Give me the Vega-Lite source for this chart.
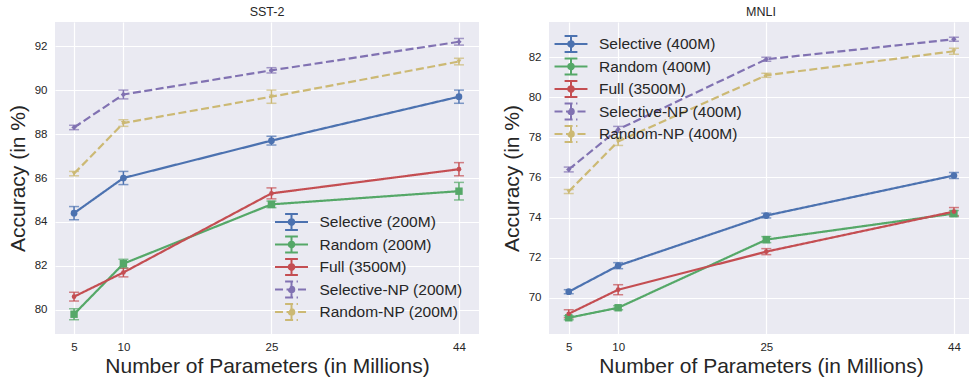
{
  "$schema": "https://vega.github.io/schema/vega-lite/v6.json",
  "padding": {"left": 7, "top": 5, "right": 0, "bottom": 0},
  "datasets": {
    "sst": [
      {"series": "Selective (200M)", "params": 5, "acc": 84.4, "err": 0.3},
      {"series": "Selective (200M)", "params": 10, "acc": 86.0, "err": 0.3},
      {"series": "Selective (200M)", "params": 25, "acc": 87.7, "err": 0.2},
      {"series": "Selective (200M)", "params": 44, "acc": 89.7, "err": 0.3},
      {"series": "Random (200M)", "params": 5, "acc": 79.8, "err": 0.25},
      {"series": "Random (200M)", "params": 10, "acc": 82.1, "err": 0.2},
      {"series": "Random (200M)", "params": 25, "acc": 84.8, "err": 0.15},
      {"series": "Random (200M)", "params": 44, "acc": 85.4, "err": 0.4},
      {"series": "Full (3500M)", "params": 5, "acc": 80.6, "err": 0.2},
      {"series": "Full (3500M)", "params": 10, "acc": 81.7, "err": 0.2},
      {"series": "Full (3500M)", "params": 25, "acc": 85.3, "err": 0.25},
      {"series": "Full (3500M)", "params": 44, "acc": 86.4, "err": 0.3},
      {"series": "Selective-NP (200M)", "params": 5, "acc": 88.3, "err": 0.1},
      {"series": "Selective-NP (200M)", "params": 10, "acc": 89.8, "err": 0.2},
      {"series": "Selective-NP (200M)", "params": 25, "acc": 90.9, "err": 0.12},
      {"series": "Selective-NP (200M)", "params": 44, "acc": 92.2, "err": 0.15},
      {"series": "Random-NP (200M)", "params": 5, "acc": 86.2, "err": 0.1},
      {"series": "Random-NP (200M)", "params": 10, "acc": 88.5, "err": 0.15},
      {"series": "Random-NP (200M)", "params": 25, "acc": 89.7, "err": 0.3},
      {"series": "Random-NP (200M)", "params": 44, "acc": 91.3, "err": 0.15}
    ],
    "mnli": [
      {"series": "Selective (400M)", "params": 5, "acc": 70.3, "err": 0.1},
      {"series": "Selective (400M)", "params": 10, "acc": 71.6, "err": 0.15},
      {"series": "Selective (400M)", "params": 25, "acc": 74.1, "err": 0.12},
      {"series": "Selective (400M)", "params": 44, "acc": 76.1, "err": 0.15},
      {"series": "Random (400M)", "params": 5, "acc": 69.0, "err": 0.1},
      {"series": "Random (400M)", "params": 10, "acc": 69.5, "err": 0.1},
      {"series": "Random (400M)", "params": 25, "acc": 72.9, "err": 0.15},
      {"series": "Random (400M)", "params": 44, "acc": 74.2, "err": 0.15},
      {"series": "Full (3500M)", "params": 5, "acc": 69.2, "err": 0.2},
      {"series": "Full (3500M)", "params": 10, "acc": 70.4, "err": 0.25},
      {"series": "Full (3500M)", "params": 25, "acc": 72.3, "err": 0.15},
      {"series": "Full (3500M)", "params": 44, "acc": 74.3, "err": 0.2},
      {"series": "Selective-NP (400M)", "params": 5, "acc": 76.4, "err": 0.12},
      {"series": "Selective-NP (400M)", "params": 10, "acc": 78.4, "err": 0.15},
      {"series": "Selective-NP (400M)", "params": 25, "acc": 81.9, "err": 0.1},
      {"series": "Selective-NP (400M)", "params": 44, "acc": 82.9, "err": 0.1},
      {"series": "Random-NP (400M)", "params": 5, "acc": 75.3, "err": 0.1},
      {"series": "Random-NP (400M)", "params": 10, "acc": 77.8, "err": 0.2},
      {"series": "Random-NP (400M)", "params": 25, "acc": 81.1, "err": 0.1},
      {"series": "Random-NP (400M)", "params": 44, "acc": 82.3, "err": 0.15}
    ]
  },
  "spacing": 22,
  "resolve": {"scale": {"color": "independent", "strokeDash": "independent", "y": "independent"}},
  "hconcat": [
    {
      "width": 424,
      "height": 312,
      "title": "SST-2",
      "data": {"name": "sst"},
      "encoding": {
        "x": {"field": "params", "type": "quantitative", "scale": {"domain": [3.07, 46.03], "nice": false, "zero": false}, "axis": {"values": [5, 10, 25, 44], "title": "Number of Parameters (in Millions)"}},
        "y": {"field": "acc", "type": "quantitative", "scale": {"domain": [78.9, 93.1], "nice": false, "zero": false}, "axis": {"values": [80, 82, 84, 86, 88, 90, 92], "title": "Accuracy (in %)"}},
        "color": {"field": "series", "type": "nominal", "title": null,
          "scale": {"domain": ["Selective (200M)", "Random (200M)", "Full (3500M)", "Selective-NP (200M)", "Random-NP (200M)"], "range": ["#4C72B0", "#55A868", "#C44E52", "#8172B2", "#CCB974"]},
          "legend": {"orient": "none", "legendX": 227.5, "legendY": 191, "symbolType": "M-2.06,0H2.06M0,-1V1M-0.8,-1H0.8M-0.8,1H0.8M0.35,0A0.35,0.35,0,1,1,-0.35,0A0.35,0.35,0,1,1,0.35,0", "symbolSize": 256, "symbolStrokeWidth": 2, "symbolOpacity": 1}}
      },
      "layer": [
        {"mark": {"type": "errorbar", "ticks": {"size": 10}, "thickness": 1.5}, "encoding": {"yError": {"field": "err"}}},
        {"mark": {"type": "line", "strokeWidth": 2.2}, "encoding": {
          "strokeDash": {"field": "series", "type": "nominal", "title": null, "scale": {"domain": ["Selective (200M)", "Random (200M)", "Full (3500M)", "Selective-NP (200M)", "Random-NP (200M)"], "range": [[1, 0], [1, 0], [1, 0], [8, 3.5], [8, 3.5]]}}}},
        {"transform": [{"filter": "datum.series == 'Selective (200M)'"}], "mark": {"type": "point", "filled": true, "opacity": 1, "shape": "circle", "size": 45}},
        {"transform": [{"filter": "datum.series == 'Random (200M)'"}], "mark": {"type": "point", "filled": true, "opacity": 1, "shape": "square", "size": 55}},
        {"transform": [{"filter": "datum.series == 'Full (3500M)'"}], "mark": {"type": "point", "filled": true, "opacity": 1, "shape": "circle", "size": 22}},
        {"transform": [{"filter": "datum.series == 'Selective-NP (200M)'"}], "mark": {"type": "point", "filled": true, "opacity": 1, "shape": "diamond", "size": 28}},
        {"transform": [{"filter": "datum.series == 'Random-NP (200M)'"}], "mark": {"type": "point", "filled": true, "opacity": 1, "shape": "triangle-down", "size": 24}}
      ]
    },
    {
      "width": 424,
      "height": 312,
      "title": "MNLI",
      "data": {"name": "mnli"},
      "encoding": {
        "x": {"field": "params", "type": "quantitative", "scale": {"domain": [3.0, 45.93], "nice": false, "zero": false}, "axis": {"values": [5, 10, 25, 44], "title": "Number of Parameters (in Millions)"}},
        "y": {"field": "acc", "type": "quantitative", "scale": {"domain": [68.19, 83.76], "nice": false, "zero": false}, "axis": {"values": [70, 72, 74, 76, 78, 80, 82], "title": "Accuracy (in %)"}},
        "color": {"field": "series", "type": "nominal", "title": null,
          "scale": {"domain": ["Selective (400M)", "Random (400M)", "Full (3500M)", "Selective-NP (400M)", "Random-NP (400M)"], "range": ["#4C72B0", "#55A868", "#C44E52", "#8172B2", "#CCB974"]},
          "legend": {"orient": "top-left", "offset": 13, "symbolType": "M-2.06,0H2.06M0,-1V1M-0.8,-1H0.8M-0.8,1H0.8M0.35,0A0.35,0.35,0,1,1,-0.35,0A0.35,0.35,0,1,1,0.35,0", "symbolSize": 256, "symbolStrokeWidth": 2, "symbolOpacity": 1}}
      },
      "layer": [
        {"mark": {"type": "errorbar", "ticks": {"size": 10}, "thickness": 1.5}, "encoding": {"yError": {"field": "err"}}},
        {"mark": {"type": "line", "strokeWidth": 2.2}, "encoding": {
          "strokeDash": {"field": "series", "type": "nominal", "title": null, "scale": {"domain": ["Selective (400M)", "Random (400M)", "Full (3500M)", "Selective-NP (400M)", "Random-NP (400M)"], "range": [[1, 0], [1, 0], [1, 0], [8, 3.5], [8, 3.5]]}}}},
        {"transform": [{"filter": "datum.series == 'Selective (400M)'"}], "mark": {"type": "point", "filled": true, "opacity": 1, "shape": "circle", "size": 45}},
        {"transform": [{"filter": "datum.series == 'Random (400M)'"}], "mark": {"type": "point", "filled": true, "opacity": 1, "shape": "square", "size": 55}},
        {"transform": [{"filter": "datum.series == 'Full (3500M)'"}], "mark": {"type": "point", "filled": true, "opacity": 1, "shape": "circle", "size": 22}},
        {"transform": [{"filter": "datum.series == 'Selective-NP (400M)'"}], "mark": {"type": "point", "filled": true, "opacity": 1, "shape": "diamond", "size": 28}},
        {"transform": [{"filter": "datum.series == 'Random-NP (400M)'"}], "mark": {"type": "point", "filled": true, "opacity": 1, "shape": "triangle-down", "size": 24}}
      ]
    }
  ],
  "config": {
    "font": "Liberation Sans",
    "view": {"fill": "#EAEAF2", "stroke": null},
    "axis": {"grid": true, "gridColor": "#FFFFFF", "gridWidth": 1.2, "domain": false, "ticks": false, "labelFont": "Liberation Sans", "labelFontSize": 11.5, "labelColor": "#262626", "titleFont": "Liberation Sans", "titleFontSize": 21, "titleFontWeight": "normal", "titleColor": "#262626", "labelPadding": 7, "titlePadding": 3},
    "axisY": {"labelPadding": 8, "titlePadding": 6},
    "title": {"font": "Liberation Sans", "fontSize": 12.5, "fontWeight": "normal", "color": "#262626", "offset": 4},
    "legend": {"labelFont": "Liberation Sans", "labelFontSize": 15.5, "labelColor": "#262626", "labelLimit": 300, "labelOffset": 19, "rowPadding": -1.5, "padding": 0}
  }
}
